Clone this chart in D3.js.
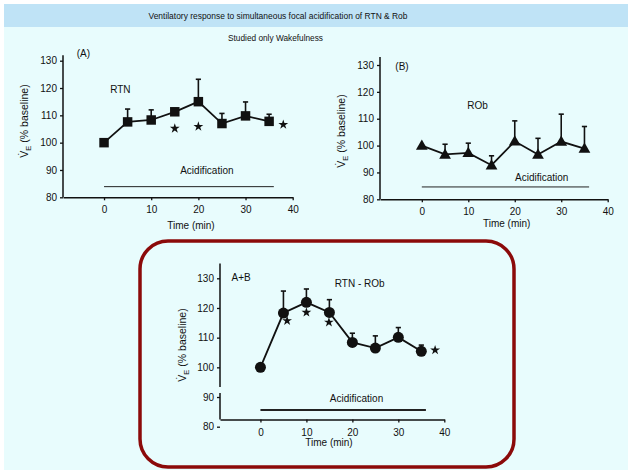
<!DOCTYPE html>
<html><head><meta charset="utf-8">
<script src="https://cdn.jsdelivr.net/npm/d3@7"></script>
<style>
html,body{margin:0;padding:0;background:#fff;}
svg text{font-family:"Liberation Sans",Arial,Helvetica,sans-serif;fill:#111;}
</style></head>
<body><svg id="c" width="632" height="475"></svg>
<script>
// ---- data ----
const times = [0, 5, 10, 15, 20, 25, 30, 35];
const rtnMean = [100, 107.6, 108.3, 111.3, 115.0, 107.0, 109.8, 107.8];
const rtnSem  = [0, 4.7, 3.7, 1.2, 8.2, 3.7, 5.1, 2.6];
const robMean = [100, 96.7, 97.3, 92.7, 101.6, 96.7, 101.5, 98.9];
const robSem  = [0, 3.8, 3.6, 3.5, 7.6, 6.0, 10.2, 8.2];
const diffMean = [100, 118.3, 121.9, 118.5, 108.4, 106.5, 110.1, 105.4];
const diffSem  = [0, 7.4, 4.5, 4.3, 3.1, 4.1, 3.3, 2.1];
const rtnStarsX = [15, 20, 38];
const rtnStarsY = [105.2, 105.9, 106.6];
const diffStarsX = [5.8, 10, 14.9, 38];
const diffStarsY = [115.7, 118.5, 115.2, 105.8];
const xTicks = [0, 10, 20, 30, 40];
const yTicks = [80, 90, 100, 110, 120, 130];
const acidStart = 0, acidEnd = 36;
const titleText = "Ventilatory response to simultaneous focal acidification of RTN & Rob";
const subtitleText = "Studied only Wakefulness";

const svg = d3.select("#c");
// background
svg.append("rect").attr("x",4).attr("y",4).attr("width",624).attr("height",466).attr("fill","#e8fcfd");
svg.append("rect").attr("x",4).attr("y",4).attr("width",624).attr("height",23).attr("fill","#bfe3f6");
svg.append("text").attr("x",278).attr("y",19).attr("text-anchor","middle").attr("font-size",8.8)
  .attr("textLength",259).attr("lengthAdjust","spacingAndGlyphs").text(titleText);
svg.append("text").attr("x",275.5).attr("y",41).attr("text-anchor","middle").attr("font-size",8.8)
  .attr("textLength",95).attr("lengthAdjust","spacingAndGlyphs").text(subtitleText);

// highlight box around panel C
svg.append("rect").attr("x",140).attr("y",241).attr("width",374).attr("height",226)
  .attr("rx",28).attr("ry",28).attr("fill","none").attr("stroke","#8b0a0a").attr("stroke-width",3.5);

function panel(cfg){
  const g = svg.append("g");
  const x = d3.scaleLinear().domain([cfg.xMin,40]).range([cfg.x0,cfg.x1]);
  const y = d3.scaleLinear().domain([80,130]).range([cfg.yBottom,cfg.yTop]);
  const axisY = cfg.xAxisY !== undefined ? y(cfg.xAxisY) : y(80);
  // y axis
  const ya = g.append("g").attr("transform",`translate(${cfg.x0},0)`)
    .call(d3.axisLeft(y).tickValues(yTicks).tickSize(3).tickPadding(3).tickSizeOuter(0));
  ya.select(".domain").remove();
  ya.selectAll("text").attr("font-size",10).attr("fill","#111").attr("font-family","Liberation Sans, Arial, sans-serif");
  ya.selectAll("line").attr("stroke","#111").attr("stroke-width",1.3);
  if(cfg.gap){
    g.append("line").attr("x1",cfg.x0).attr("x2",cfg.x0).attr("y1",y(cfg.yAxisTop)).attr("y2",cfg.gap[0]).attr("stroke","#111").attr("stroke-width",1.5);
    g.append("line").attr("x1",cfg.x0).attr("x2",cfg.x0).attr("y1",cfg.gap[1]).attr("y2",axisY).attr("stroke","#111").attr("stroke-width",1.5);
  } else {
    g.append("line").attr("x1",cfg.x0).attr("x2",cfg.x0).attr("y1",y(cfg.yAxisTop)).attr("y2",axisY).attr("stroke","#111").attr("stroke-width",1.5);
  }
  // x axis
  const xa = g.append("g").attr("transform",`translate(0,${axisY})`)
    .call(d3.axisBottom(x).tickValues(xTicks).tickSize(3).tickPadding(cfg.xPad||6).tickSizeOuter(0));
  xa.select(".domain").attr("stroke","#111").attr("stroke-width",1.5);
  xa.selectAll("text").attr("font-size",10).attr("fill","#111").attr("font-family","Liberation Sans, Arial, sans-serif");
  xa.selectAll("line").attr("stroke","#111").attr("stroke-width",1.3);
  g.append("text").attr("x",cfg.timeX).attr("y",cfg.timeY).attr("text-anchor","middle").attr("font-size",10).text("Time (min)");
  // y label
  const yl = g.append("text").attr("transform",`translate(${cfg.ylX},${cfg.ylY}) rotate(-90)`)
    .attr("text-anchor","middle").attr("font-size",10.5);
  yl.append("tspan").text("V\u0307");
  yl.append("tspan").attr("font-size",7.5).attr("dy",3).text("E");
  yl.append("tspan").attr("dy",-3).text(" (% baseline)");
  // acidification
  g.append("line").attr("x1",x(acidStart)).attr("x2",x(acidEnd)).attr("y1",y(cfg.acidY)).attr("y2",y(cfg.acidY))
    .attr("stroke","#222").attr("stroke-width",cfg.acidW);
  g.append("text").attr("x",x(cfg.acidTextX)).attr("y",y(cfg.acidTextY)).attr("text-anchor","middle").attr("font-size",10).text("Acidification");
  // labels
  g.append("text").attr("x",x(cfg.tagX)).attr("y",y(cfg.tagY)).attr("font-size",10).text(cfg.tag);
  g.append("text").attr("x",x(cfg.nameX)).attr("y",y(cfg.nameY)).attr("text-anchor",cfg.nameAnchor).attr("font-size",10).text(cfg.name);
  // error bars (upper only)
  const mean = cfg.mean, sem = cfg.sem;
  times.forEach((t,i)=>{
    if(sem[i]<=0) return;
    g.append("line").attr("x1",x(t)).attr("x2",x(t)).attr("y1",y(mean[i])).attr("y2",y(mean[i]+sem[i])).attr("stroke","#111").attr("stroke-width",1.6);
    g.append("line").attr("x1",x(t)-2.6).attr("x2",x(t)+2.6).attr("y1",y(mean[i]+sem[i])).attr("y2",y(mean[i]+sem[i])).attr("stroke","#111").attr("stroke-width",1.6);
  });
  // line
  const pts = times.map((t,i)=>[x(t),y(mean[i])]);
  g.append("path").attr("d",d3.line()(pts)).attr("fill","none").attr("stroke","#111").attr("stroke-width",1.8);
  // markers
  g.selectAll(".m").data(pts).join("path")
    .attr("transform",d=>`translate(${d[0]},${d[1]+(cfg.symbol===d3.symbolTriangle?0.8:0)})`)
    .attr("d",d3.symbol().type(cfg.symbol).size(cfg.symSize)).attr("fill","#111");
  // stars
  if(cfg.starsX){
    cfg.starsX.forEach((sx,i)=>{
      g.append("path").attr("transform",`translate(${x(sx)},${y(cfg.starsY[i])})`)
        .attr("d",d3.symbol().type(d3.symbolStar).size(30)).attr("fill","#111");
    });
  }
}

panel({x0:63,x1:292.7,xMin:-8.7,yBottom:197.3,yTop:60.7,yAxisTop:132,
  timeX:191,timeY:229,ylX:28,ylY:121,
  acidY:83.9,acidW:1,acidTextX:21.8,acidTextY:88.7,
  tag:"(A)",tagX:-5.8,tagY:131.3,name:"RTN",nameX:1.3,nameY:118.3,nameAnchor:"start",
  mean:rtnMean,sem:rtnSem,symbol:d3.symbolSquare,symSize:90,starsX:rtnStarsX,starsY:rtnStarsY});

panel({x0:380,x1:607.7,xMin:-9,yBottom:199.3,yTop:65,yAxisTop:133,
  timeX:506.7,timeY:226.5,ylX:345,ylY:131,
  acidY:84.6,acidW:1,acidTextX:25.8,acidTextY:86.8,
  tag:"(B)",tagX:-5.7,tagY:128.3,name:"ROb",nameX:12,nameY:113.7,nameAnchor:"middle",
  mean:robMean,sem:robSem,symbol:d3.symbolTriangle,symSize:60});

panel({x0:220,x1:444.3,xMin:-8.8,yBottom:426.7,yTop:278.3,yAxisTop:135,xAxisY:82.4,xPad:6,gap:[387,393],
  timeX:329,timeY:446,ylX:186,ylY:345,
  acidY:85.6,acidW:2,acidTextX:20.9,acidTextY:88.3,
  tag:"A+B",tagX:-6.3,tagY:129.1,name:"RTN - ROb",nameX:21.6,nameY:127.2,nameAnchor:"middle",
  mean:diffMean,sem:diffSem,symbol:d3.symbolCircle,symSize:95,starsX:diffStarsX,starsY:diffStarsY});
</script></body></html>
